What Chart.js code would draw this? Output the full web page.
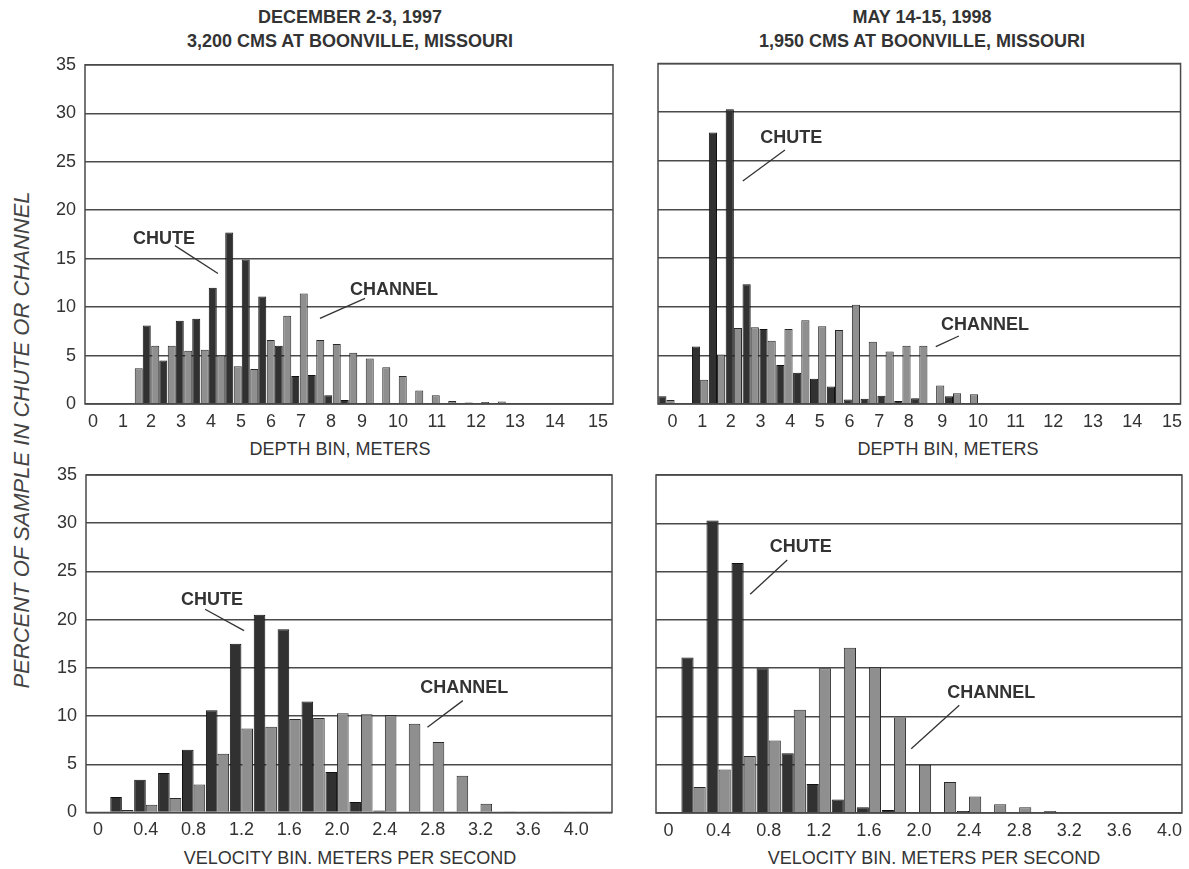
<!DOCTYPE html>
<html>
<head>
<meta charset="utf-8">
<script src="https://cdn.jsdelivr.net/npm/chart.js@4/dist/chart.umd.min.js"></script>
<style>
  html, body { margin: 0; padding: 0; background: #fff; }
  body { width: 1189px; height: 869px; position: relative; overflow: hidden;
         font-family: "Liberation Sans", Arial, Helvetica, sans-serif; color: #333; }
  .box { position: absolute; }
  .title { position: absolute; font-weight: bold; font-size: 18px; line-height: 24px;
           text-align: center; white-space: nowrap; color: #333; }
  .axt { position: absolute; font-size: 18px; line-height: 22px; text-align: center;
         white-space: nowrap; color: #333; }
  .yt { position: absolute; font-size: 22px; line-height: 26px; text-align: center;
        white-space: nowrap; font-style: italic; color: #444; transform: rotate(-90deg); }
</style>
</head>
<body>

<div class="title" style="left:150px; top:5px; width:400px;">DECEMBER 2-3, 1997<br>3,200 CMS AT BOONVILLE, MISSOURI</div>
<div class="title" style="left:722px; top:5px; width:400px;">MAY 14-15, 1998<br>1,950 CMS AT BOONVILLE, MISSOURI</div>
<div class="yt" style="left:-278px; top:427px; width:600px;">PERCENT OF SAMPLE IN CHUTE OR CHANNEL</div>
<div class="axt" style="left:140px; top:438px; width:400px;">DEPTH BIN, METERS</div>
<div class="axt" style="left:748px; top:438px; width:400px;">DEPTH BIN, METERS</div>
<div class="axt" style="left:150px; top:847px; width:400px;">VELOCITY BIN. METERS PER SECOND</div>
<div class="axt" style="left:734px; top:847px; width:400px;">VELOCITY BIN. METERS PER SECOND</div>

<div class="box" id="wTL"><canvas id="cTL"></canvas></div>
<div class="box" id="wTR"><canvas id="cTR"></canvas></div>
<div class="box" id="wBL"><canvas id="cBL"></canvas></div>
<div class="box" id="wBR"><canvas id="cBR"></canvas></div>

<script>
// ---------------- DATA ----------------
// Depth bins, December 2-3, 1997 (half-metre bins)
const DEC_DEPTH_BINS = ['0','0.5','1','1.5','2','2.5','3','3.5','4','4.5','5','5.5','6','6.5','7','7.5',
                        '8','8.5','9','9.5','10','10.5','11','11.5','12','12.5','13','13.5','14','14.5','15','15.5'];
const DEC_DEPTH_CHANNEL = [0, 0.1, 0, 3.7, 6.0, 6.0, 5.5, 5.6, 5.0, 3.9, 3.6, 6.6, 9.1, 11.4, 6.6, 6.2,
                           5.3, 4.7, 3.8, 2.9, 1.4, 0.9, 0.3, 0.15, 0.2, 0.25, 0.1, 0.1, 0.05, 0.05, 0.05, 0.05];
const DEC_DEPTH_CHUTE   = [0, 0.1, 0, 8.1, 4.5, 8.6, 8.8, 12.0, 17.7, 14.9, 11.1, 6.0, 2.9, 3.0, 0.9, 0.4,
                           0, 0, 0, 0, 0, 0, 0, 0.05, 0.05, 0.05, 0.05, 0, 0, 0, 0, 0];

// Depth bins, May 14-15, 1998
const MAY_DEPTH_BINS = ['0','0.5','1','1.5','2','2.5','3','3.5','4','4.5','5','5.5','6','6.5','7','7.5',
                        '8','8.5','9','9.5','10','10.5','11','11.5','12','12.5','13','13.5','14','14.5','15'];
const MAY_DEPTH_CHUTE   = [0.8, 0, 5.9, 27.9, 30.3, 12.3, 7.7, 4.0, 3.2, 2.6, 1.8, 0.45, 0.55, 0.85, 0.3, 0.6,
                           0.1, 0.8, 0, 0.05, 0, 0, 0, 0, 0, 0, 0, 0, 0, 0, 0];
const MAY_DEPTH_CHANNEL = [0.4, 0, 2.5, 5.1, 7.8, 7.9, 6.5, 7.7, 8.6, 8.0, 7.6, 10.2, 6.4, 5.4, 6.0, 6.0,
                           1.9, 1.1, 1.0, 0.1, 0.05, 0.05, 0.05, 0.05, 0.05, 0.05, 0.05, 0.05, 0.05, 0.05, 0.05];

// Velocity bins, December 2-3, 1997 (0.2 m/s bins)
const DEC_VEL_BINS = ['0','0.2','0.4','0.6','0.8','1.0','1.2','1.4','1.6','1.8','2.0','2.2','2.4','2.6',
                      '2.8','3.0','3.2','3.4','3.6','3.8','4.0','4.2'];
const DEC_VEL_CHUTE   = [0, 1.6, 3.4, 4.1, 6.5, 10.6, 17.5, 20.5, 19.0, 11.5, 4.2, 1.1, 0.2, 0, 0, 0, 0, 0, 0, 0, 0, 0];
const DEC_VEL_CHANNEL = [0, 0.25, 0.8, 1.5, 2.9, 6.1, 8.7, 8.9, 9.7, 9.8, 10.3, 10.2, 10.1, 9.2, 7.3, 3.8, 0.9,
                         0.1, 0.05, 0.05, 0.05, 0.05];

// Velocity bins, May 14-15, 1998
const MAY_VEL_BINS = ['0','0.2','0.4','0.6','0.8','1.0','1.2','1.4','1.6','1.8','2.0','2.2','2.4','2.6',
                      '2.8','3.0','3.2','3.4','3.6','3.8','4.0'];
const MAY_VEL_CHUTE   = [0, 16.1, 30.3, 25.9, 15.0, 6.2, 3.0, 1.4, 0.6, 0.3, 0, 0.1, 0.2, 0.05, 0, 0, 0, 0, 0, 0, 0];
const MAY_VEL_CHANNEL = [0, 2.7, 4.5, 5.9, 7.5, 10.7, 15.0, 17.1, 15.1, 9.9, 5.0, 3.2, 1.7, 0.9, 0.6, 0.2,
                         0.05, 0.05, 0.05, 0.05, 0.05];

// Tick labels
const DEPTH_TICKS = ['0','1','2','3','4','5','6','7','8','9','10','11','12','13','14','15'];
// where the original figure placed each depth label, in bin units
const DEC_DEPTH_TICK_AT = [-0.02, 1.8, 3.5, 5.32, 7.14, 8.95, 10.77, 12.59, 14.41, 16.29, 18.47, 20.83, 23.2, 25.56, 27.98, 30.59];
const MAY_DEPTH_TICK_AT = [0.36, 2.12, 3.82, 5.58, 7.34, 9.1, 10.86, 12.62, 14.38, 16.37, 18.49, 20.72, 22.95, 25.3, 27.64, 29.99];
const VEL_TICKS = ['0','0.4','0.8','1.2','1.6','2.0','2.4','2.8','3.2','3.6','4.0'];
const Y_MIN = 0, Y_MAX = 35, Y_STEP = 5;

// ---------------- STYLE ----------------
const FONT = '"Liberation Sans", Arial, Helvetica, sans-serif';
const CHUTE_FILL = '#313131', CHUTE_EDGE = '#111111';
const CHAN_FILL = '#8f8f8f', CHAN_EDGE = '#2a2a2a';
const GRID = '#4a4a4a';
const TEXT = '#333333';

const framePlugin = {
  id: 'frame',
  afterDraw(chart, args, opts) {
    const { ctx, chartArea: a, scales } = chart;
    const x = scales.x, y = scales.y;
    ctx.save();
    ctx.strokeStyle = GRID; ctx.lineWidth = 1.5;
    ctx.strokeRect(a.left, a.top, a.right - a.left, a.bottom - a.top);
    (opts.notes || []).forEach(n => {
      ctx.font = 'bold 18px ' + FONT;
      ctx.fillStyle = TEXT; ctx.textAlign = 'center'; ctx.textBaseline = 'middle';
      ctx.fillText(n.text, x.getPixelForValue(n.at[0]), y.getPixelForValue(n.at[1]));
      ctx.beginPath();
      ctx.moveTo(x.getPixelForValue(n.from[0]), y.getPixelForValue(n.from[1]));
      ctx.lineTo(x.getPixelForValue(n.to[0]), y.getPixelForValue(n.to[1]));
      ctx.lineWidth = 1.3; ctx.strokeStyle = '#333';
      ctx.stroke();
    });
    ctx.restore();
  }
};

function makeChart(id, box, area, spec) {
  const wrap = document.getElementById('w' + id);
  const cv = document.getElementById('c' + id);
  wrap.style.left = box.L + 'px'; wrap.style.top = box.T + 'px';
  wrap.style.width = box.W + 'px'; wrap.style.height = box.H + 'px';
  cv.width = box.W; cv.height = box.H;
  cv.style.width = box.W + 'px'; cv.style.height = box.H + 'px';
  const yW = area.l - box.L;
  const padR = box.L + box.W - area.r;
  const padT = area.t - box.T;
  const xH = box.T + box.H - area.b;

  const chute = { label: 'CHUTE', data: spec.chute, backgroundColor: CHUTE_FILL, borderColor: CHUTE_EDGE,
                  borderWidth: 1, categoryPercentage: 0.97, barPercentage: 1.0 };
  const chan = { label: 'CHANNEL', data: spec.channel, backgroundColor: CHAN_FILL, borderColor: CHAN_EDGE,
                 borderWidth: 1, categoryPercentage: 0.97, barPercentage: 1.0 };
  const datasets = spec.channelFirst ? [chan, chute] : [chute, chan];

  return new Chart(cv, {
    type: 'bar',
    data: { labels: spec.bins, datasets },
    plugins: [framePlugin],
    options: {
      responsive: false, animation: false, devicePixelRatio: 1,
      layout: { padding: { left: 0, right: padR, top: padT, bottom: 0 } },
      plugins: { legend: { display: false }, tooltip: { enabled: false }, frame: { notes: spec.notes } },
      scales: {
        x: {
          type: 'category',
          grid: { display: false, drawTicks: false },
          border: { display: false },
          ticks: { autoSkip: false, maxRotation: 0, minRotation: 0, padding: 7, color: TEXT,
                   font: { family: FONT, size: 18 },
                   callback: (v, i) => spec.tickLabels[i] },
          afterBuildTicks: (s) => { s.ticks = spec.tickAt.map(v => ({ value: v })); },
          afterFit: (s) => { s.height = xH; }
        },
        y: {
          min: Y_MIN, max: Y_MAX,
          grid: { color: GRID, lineWidth: 1.5, drawTicks: false },
          border: { display: false },
          ticks: { stepSize: Y_STEP, display: spec.showY, padding: 9, color: TEXT,
                   font: { family: FONT, size: 18 } },
          afterFit: (s) => { s.width = yW; }
        }
      }
    }
  });
}

const velTickAt = (bins) => VEL_TICKS.map(t => bins.indexOf(t));

makeChart('TL', { L: 0, T: 45, W: 625, H: 395 }, { l: 85, r: 613, t: 63.5, b: 404 }, {
  bins: DEC_DEPTH_BINS, chute: DEC_DEPTH_CHUTE, channel: DEC_DEPTH_CHANNEL, channelFirst: true,
  tickLabels: DEPTH_TICKS, tickAt: DEC_DEPTH_TICK_AT, showY: true,
  notes: [
    { text: 'CHUTE', at: [4.29, 17.06], from: [4.95, 16.34], to: [7.56, 13.46] },
    { text: 'CHANNEL', at: [18.23, 11.72], from: [16.47, 10.89], to: [13.74, 8.84] }
  ]
});

makeChart('TR', { L: 650, T: 45, W: 539, H: 395 }, { l: 658, r: 1187, t: 63.5, b: 404 }, {
  bins: MAY_DEPTH_BINS, chute: MAY_DEPTH_CHUTE, channel: MAY_DEPTH_CHANNEL, channelFirst: false,
  tickLabels: DEPTH_TICKS, tickAt: MAY_DEPTH_TICK_AT, showY: false,
  notes: [
    { text: 'CHUTE', at: [7.40, 27.39], from: [7.03, 26.1], to: [4.53, 22.92] },
    { text: 'CHANNEL', at: [18.9, 8.12], from: [17.35, 6.99], to: [15.98, 5.89] }
  ]
});

makeChart('BL', { L: 0, T: 455, W: 625, H: 400 }, { l: 86, r: 612, t: 475, b: 812.5 }, {
  bins: DEC_VEL_BINS, chute: DEC_VEL_CHUTE, channel: DEC_VEL_CHANNEL, channelFirst: false,
  tickLabels: VEL_TICKS, tickAt: velTickAt(DEC_VEL_BINS), showY: true,
  notes: [
    { text: 'CHUTE', at: [4.77, 22.04], from: [4.48, 21.08], to: [6.11, 18.86] },
    { text: 'CHANNEL', at: [15.32, 12.86], from: [15.26, 11.6], to: [13.78, 8.84] }
  ]
});

makeChart('BR', { L: 650, T: 455, W: 539, H: 400 }, { l: 656, r: 1186, t: 475, b: 813 }, {
  bins: MAY_VEL_BINS, chute: MAY_VEL_CHUTE, channel: MAY_VEL_CHANNEL, channelFirst: false,
  tickLabels: VEL_TICKS, tickAt: velTickAt(MAY_VEL_BINS), showY: false,
  notes: [
    { text: 'CHUTE', at: [5.28, 27.57], from: [4.74, 26.19], to: [3.26, 22.66] },
    { text: 'CHANNEL', at: [12.89, 12.43], from: [11.61, 11.15], to: [9.69, 6.66] }
  ]
});
</script>
</body>
</html>
